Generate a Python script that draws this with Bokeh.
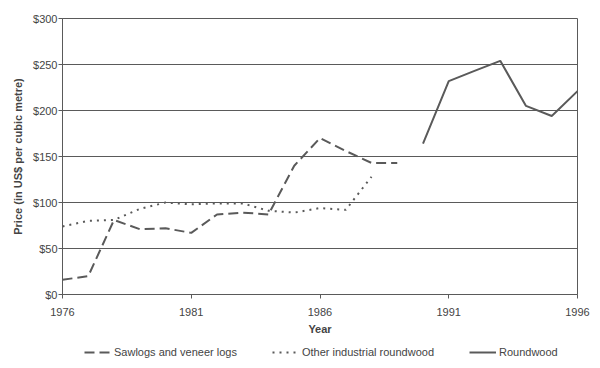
from bokeh.plotting import figure
from bokeh.layouts import column
from bokeh.models import Range1d, FixedTicker, Legend, LegendItem, NumeralTickFormatter
from bokeh.embed import file_html
from bokeh.resources import INLINE

saw_years = [1976, 1977, 1978, 1979, 1980, 1981, 1982, 1983, 1984, 1985, 1986, 1987, 1988, 1989]
saw_vals = [16, 20, 81, 71, 72, 67, 87, 89, 87, 140, 170, 156, 143, 143]

other_years = [1976, 1977, 1978, 1979, 1980, 1981, 1982, 1983, 1984, 1985, 1986, 1987, 1988]
other_vals = [74, 80, 81, 93, 100, 98, 99, 99, 91, 89, 94, 92, 128]

round_years = [1990, 1991, 1992, 1993, 1994, 1995, 1996]
round_vals = [164, 232, 243, 254, 205, 194, 221]

x_ticks = [1976, 1981, 1986, 1991, 1996]
y_ticks = [0, 50, 100, 150, 200, 250, 300]

series_names = ["Sawlogs and veneer logs", "Other industrial roundwood", "Roundwood"]

FONT = "Liberation Sans"
GREY = "#5a5a5a"
TXT = "#444444"
DASHES = ["10 5", "2 5", "solid"]

p = figure(width=600, height=340, output_backend="svg", toolbar_location=None,
           x_range=Range1d(1976, 1996), y_range=Range1d(0, 300),
           min_border_left=62, min_border_right=23, min_border_top=18, min_border_bottom=46)

p.xgrid.visible = False
p.ygrid.grid_line_color = GREY
p.ygrid.grid_line_width = 1
p.outline_line_color = GREY
p.outline_line_width = 1

for ax in (p.xaxis[0], p.yaxis[0]):
    ax.axis_line_color = GREY
    ax.major_tick_line_color = GREY
    ax.major_tick_out = 4
    ax.major_tick_in = 0
    ax.minor_tick_line_color = None
    ax.major_label_text_font = FONT
    ax.major_label_text_font_size = "11px"
    ax.major_label_text_color = TXT
    ax.axis_label_text_font = FONT
    ax.axis_label_text_font_size = "11px"
    ax.axis_label_text_font_style = "bold"
    ax.axis_label_text_color = TXT

p.xaxis.ticker = FixedTicker(ticks=x_ticks)
p.yaxis.ticker = FixedTicker(ticks=y_ticks)
p.yaxis.formatter = NumeralTickFormatter(format="$0")
p.xaxis.axis_label = "Year"
p.yaxis.axis_label = "Price (in US$ per cubic metre)"
p.xaxis.major_label_standoff = 9
p.yaxis.major_label_standoff = 1
p.xaxis.axis_label_standoff = 4
p.yaxis.axis_label_standoff = 6

p.line(saw_years, saw_vals, line_color=GREY, line_width=2, line_dash=DASHES[0])
p.line(other_years, other_vals, line_color=GREY, line_width=2, line_dash=DASHES[1])
p.line(round_years, round_vals, line_color=GREY, line_width=2, line_dash=DASHES[2])

# legend strip below the chart (its frame is aligned with the chart's frame)
lg = figure(width=600, height=28, output_backend="svg", toolbar_location=None,
            x_axis_type=None, y_axis_type=None, x_range=Range1d(0, 1), y_range=Range1d(0, 1),
            min_border=0)
lg.grid.visible = False
lg.outline_line_color = None
items = []
for name, dash in zip(series_names, DASHES):
    r = lg.line([-5, -4], [-5, -4], line_color=GREY, line_width=2, line_dash=dash)
    items.append(LegendItem(label=name, renderers=[r]))

legend = Legend(items=items, orientation="horizontal", location=(22, 9), spacing=35,
                glyph_width=27, glyph_height=14, label_standoff=3, border_line_color=None,
                background_fill_alpha=0, label_text_font=FONT, label_text_font_size="11px",
                label_height=14, label_text_color=TXT, margin=0, padding=2)
lg.add_layout(legend, "center")

layout = column(p, lg, spacing=0)
open("out.html", "w").write(file_html(layout, INLINE))
